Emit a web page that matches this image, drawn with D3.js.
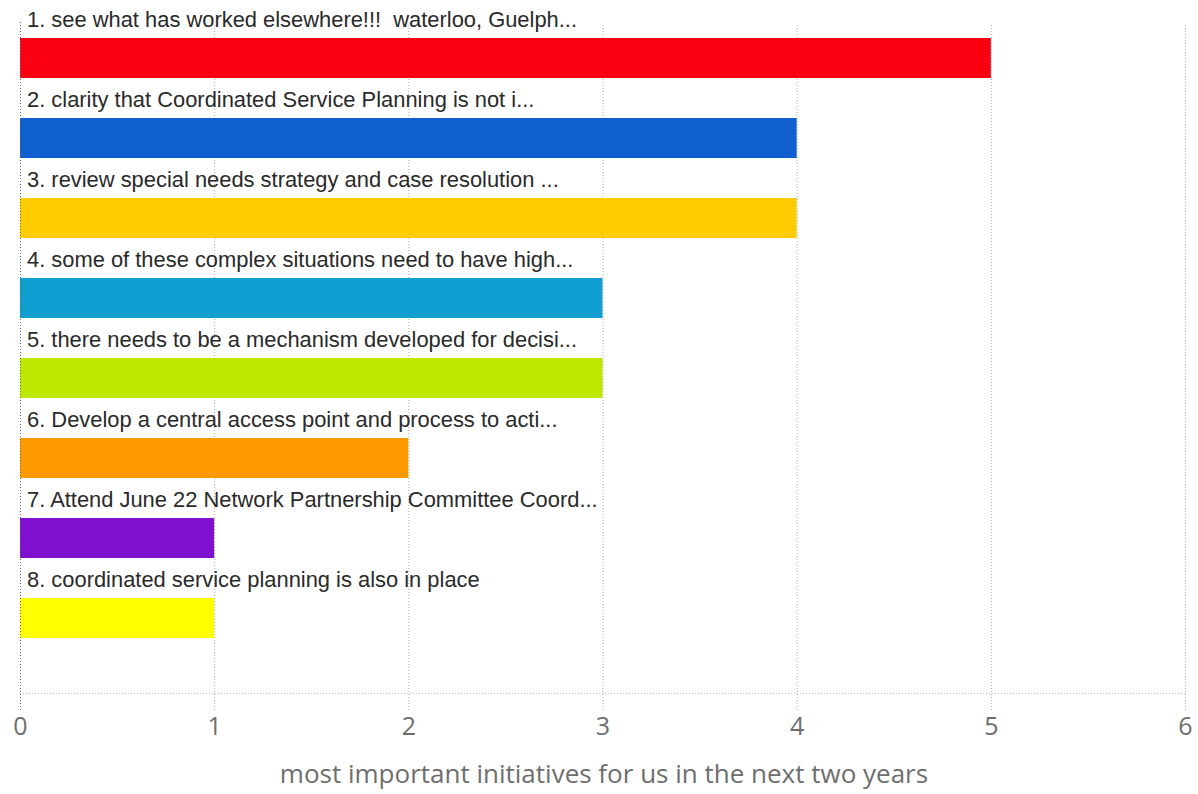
<!DOCTYPE html>
<html>
<head>
<meta charset="utf-8">
<script src="https://cdn.jsdelivr.net/npm/d3@7"></script>
<style>
  html, body { margin: 0; padding: 0; background: #fff; }
  svg { display: block; }
</style>
</head>
<body>
<script>
// Initiative labels, vote counts and bar colours
const categories = [
  "1. see what has worked elsewhere!!!  waterloo, Guelph...",
  "2. clarity that Coordinated Service Planning is not i...",
  "3. review special needs strategy and case resolution ...",
  "4. some of these complex situations need to have high...",
  "5. there needs to be a mechanism developed for decisi...",
  "6. Develop a central access point and process to acti...",
  "7. Attend June 22 Network Partnership Committee Coord...",
  "8. coordinated service planning is also in place"
];
const values = [5, 4, 4, 3, 3, 2, 1, 1];
const colors = ["#fa0010", "#1060d0", "#ffcc00", "#109fd0", "#bde800", "#ff9900", "#8010d0", "#ffff00"];
const xTicks = [0, 1, 2, 3, 4, 5, 6];
const axisTitle = "most important initiatives for us in the next two years";

const W = 1198, H = 794;
const plotLeft = 20, plotRight = 1185, plotTop = 22, baseline = 693;

const svg = d3.select("body").append("svg").attr("width", W).attr("height", H);

const x = d3.scaleLinear().domain([0, 6]).range([plotLeft, plotRight]);
const y = d3.scaleBand().domain(d3.range(categories.length))
  .range([18, 658]).paddingInner(0.5).paddingOuter(0.25);

// vertical dotted gridlines
svg.append("g").selectAll("line").data(xTicks.slice(1)).join("line")
  .attr("x1", d => x(d) + 0.5).attr("x2", d => x(d) + 0.5)
  .attr("y1", 25).attr("y2", 710)
  .attr("stroke", "#aaa").attr("stroke-width", 1)
  .attr("stroke-dasharray", "1,2");

// baseline
svg.append("line")
  .attr("x1", plotLeft).attr("x2", plotRight)
  .attr("y1", baseline + 0.5).attr("y2", baseline + 0.5)
  .attr("stroke", "#bbb").attr("stroke-dasharray", "1,2");

// bars
svg.append("g").selectAll("rect").data(values).join("rect")
  .attr("x", x(0))
  .attr("y", (d, i) => y(i))
  .attr("width", d => x(d) - x(0))
  .attr("height", y.bandwidth())
  .attr("fill", (d, i) => colors[i]);

// category labels above each bar
svg.append("g").selectAll("text").data(categories).join("text")
  .attr("x", 27)
  .attr("y", (d, i) => y(i) - 11)
  .attr("font-family", "Liberation Sans, Arial, sans-serif")
  .attr("font-size", 21.9)
  .attr("fill", "#2a2a2a")
  .style("white-space", "pre")
  .text(d => d);

// left axis line
svg.append("line")
  .attr("x1", plotLeft + 0.5).attr("x2", plotLeft + 0.5)
  .attr("y1", plotTop).attr("y2", 710)
  .attr("stroke", "#666").attr("stroke-dasharray", "1,2");

// x axis tick labels
const xAxis = d3.axisBottom(x).tickValues(xTicks).tickSize(0).tickPadding(0).tickFormat(d3.format("d"));
const gx = svg.append("g").attr("transform", `translate(0, ${baseline})`).call(xAxis);
gx.select(".domain").remove();
gx.selectAll("text")
  .attr("y", 42)
  .attr("dy", 0)
  .attr("font-family", "Open Sans, sans-serif")
  .attr("font-size", 25)
  .attr("fill", "#6e6e6e");

// axis title
svg.append("text")
  .attr("x", 604)
  .attr("y", 783)
  .attr("text-anchor", "middle")
  .attr("font-family", "Open Sans, sans-serif")
  .attr("font-size", 26)
  .attr("fill", "#6e6e6e")
  .text(axisTitle);
</script>
</body>
</html>
